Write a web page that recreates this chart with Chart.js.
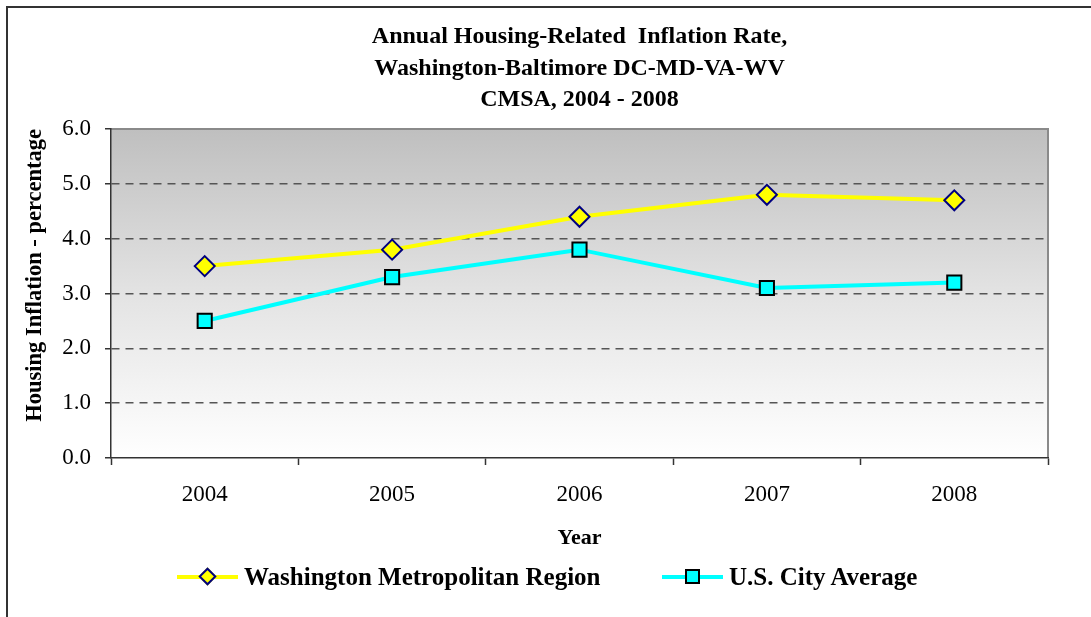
<!DOCTYPE html>
<html>
<head>
<meta charset="utf-8">
<title>Annual Housing-Related Inflation Rate</title>
<script src="https://cdn.jsdelivr.net/npm/chart.js@4.4.1/dist/chart.umd.min.js"></script>
<style>
  html, body { margin: 0; padding: 0; background: #fff; }
  #wrap { position: relative; width: 1091px; height: 617px; overflow: hidden; }
  #frame {
    position: absolute; left: 6px; top: 6px; right: -10px; bottom: -10px;
    border-left: 2px solid #333; border-top: 2px solid #333;
  }
  #chart { position: absolute; left: 0; top: 0; }
  .legend-item {
    position: absolute; top: 563px; height: 28px;
    display: flex; align-items: center;
    font: bold 25px "Liberation Serif", "Times New Roman", serif; color: #000;
    white-space: nowrap;
  }
  .legend-mark { position: relative; width: 61px; height: 28px; margin-right: 6px; }
  .legend-line { position: absolute; left: 0; right: 0; top: 12px; height: 4px; }
  .legend-dot { position: absolute; box-sizing: border-box; }
  .legend-dot.diamond { width: 13px; height: 13px; left: 24px; top: 7px; transform: rotate(45deg); border: 2px solid #000080; }
  .legend-dot.square { width: 15px; height: 15px; left: 23px; top: 6px; border: 2px solid #000; }
</style>
</head>
<body>
<div id="wrap">
  <div id="frame"></div>
  <canvas id="chart" width="1091" height="617"></canvas>
</div>
<script>
// Housing-related inflation, Washington-Baltimore CMSA vs U.S. city average

const SERIF = '"Liberation Serif", "Times New Roman", serif';

const YEARS = ["2004", "2005", "2006", "2007", "2008"];
const WASHINGTON = [3.5, 3.8, 4.4, 4.8, 4.7];
const US_AVERAGE = [2.5, 3.3, 3.8, 3.1, 3.2];

const TITLE_LINES = [
  "Annual Housing-Related  Inflation Rate,",
  "Washington-Baltimore DC-MD-VA-WV",
  "CMSA, 2004 - 2008",
];
const SERIES_NAMES = ["Washington Metropolitan Region", "U.S. City Average"];
const LEGEND_LEFT = [177, 662];

// --- Plot area background (grey -> white) ---

const plotBackground = {
  id: "plotBackground",
  beforeDraw(chart) {
    const { ctx, chartArea: a } = chart;
    const g = ctx.createLinearGradient(0, a.top, 0, a.bottom);
    g.addColorStop(0, "#bfbfbf");
    g.addColorStop(0.5, "#e3e3e3");
    g.addColorStop(1, "#ffffff");
    ctx.save();
    ctx.fillStyle = g;
    ctx.fillRect(a.left, a.top, a.right - a.left, a.bottom - a.top);
    ctx.strokeStyle = "#8a8a8a";
    ctx.lineWidth = 2;
    ctx.beginPath();
    ctx.moveTo(a.left, a.top);
    ctx.lineTo(a.right, a.top);
    ctx.lineTo(a.right, a.bottom);
    ctx.stroke();
    ctx.restore();
  },
};

const tickFont = { family: SERIF, size: 23 };

const chart = new Chart(document.getElementById("chart").getContext("2d"), {
  type: "line",
  data: {
    labels: YEARS,
    datasets: [
      {
        label: SERIES_NAMES[0],
        data: WASHINGTON,
        borderColor: "#ffff00",
        borderWidth: 4,
        pointStyle: "rectRot",
        pointRadius: 10,
        pointBackgroundColor: "#ffff00",
        pointBorderColor: "#000080",
        pointBorderWidth: 2,
        tension: 0,
      },
      {
        label: SERIES_NAMES[1],
        data: US_AVERAGE,
        borderColor: "#00ffff",
        borderWidth: 4,
        pointStyle: "rect",
        pointRadius: 10,
        pointBackgroundColor: "#00ffff",
        pointBorderColor: "#000000",
        pointBorderWidth: 2,
        tension: 0,
      },
    ],
  },
  options: {
    responsive: false,
    animation: false,
    events: [],
    layout: { padding: { top: 10, left: 20, right: 43, bottom: 63 } },
    plugins: {
      legend: { display: false },
      tooltip: { enabled: false },
      title: {
        display: true,
        fullSize: false,
        text: TITLE_LINES,
        color: "#000",
        font: { family: SERIF, size: 24, weight: "bold", lineHeight: 1.32 },
        padding: { top: 11, bottom: 13 },
      },
    },
    scales: {
      x: {
        offset: true,
        grid: {
          offset: true,
          drawOnChartArea: false,
          tickLength: 7,
          tickColor: "#333",
          tickWidth: 1.5,
        },
        border: { color: "#333", width: 1.5 },
        ticks: { color: "#000", font: tickFont, padding: 16 },
        title: {
          display: true,
          text: "Year",
          color: "#000",
          font: { family: SERIF, size: 22, weight: "bold" },
          padding: { top: 1, bottom: 2 },
        },
      },
      y: {
        min: 0,
        max: 6,
        grid: {
          color: c => (c.tick && c.tick.value > 0 && c.tick.value < 6) ? "#555" : "rgba(0,0,0,0)",
          lineWidth: 1.5,
          tickLength: 6,
          tickColor: "#333",
          tickWidth: 1.5,
          tickBorderDash: [],
        },
        border: { color: "#333", width: 1.5, dash: [8, 6] },
        ticks: {
          stepSize: 1,
          color: "#000",
          font: tickFont,
          padding: 14,
          callback: v => Number(v).toFixed(1),
        },
        title: {
          display: true,
          text: "Housing Inflation - percentage",
          align: "end",
          color: "#000",
          font: { family: SERIF, size: 22.5, weight: "bold" },
          padding: { top: 2, bottom: 0 },
        },
        afterFit(scale) { scale.width = 91; },
      },
    },
  },
  plugins: [plotBackground],
});

// --- Legend (line + marker, like the original) ---

function createEl(tag, className, textContent) {
  const el = document.createElement(tag);
  if (className) el.className = className;
  if (textContent !== undefined) el.textContent = textContent;
  return el;
}

const wrap = document.getElementById("wrap");
chart.data.datasets.forEach((ds, i) => {
  const item = createEl("div", "legend-item");
  item.style.left = LEGEND_LEFT[i] + "px";
  const mark = createEl("span", "legend-mark");
  const line = createEl("span", "legend-line");
  line.style.background = ds.borderColor;
  const dot = createEl("span", "legend-dot " + (ds.pointStyle === "rectRot" ? "diamond" : "square"));
  dot.style.background = ds.pointBackgroundColor;
  mark.appendChild(line);
  mark.appendChild(dot);
  item.appendChild(mark);
  item.appendChild(createEl("span", "legend-text", ds.label));
  wrap.appendChild(item);
});
</script>
</body>
</html>
